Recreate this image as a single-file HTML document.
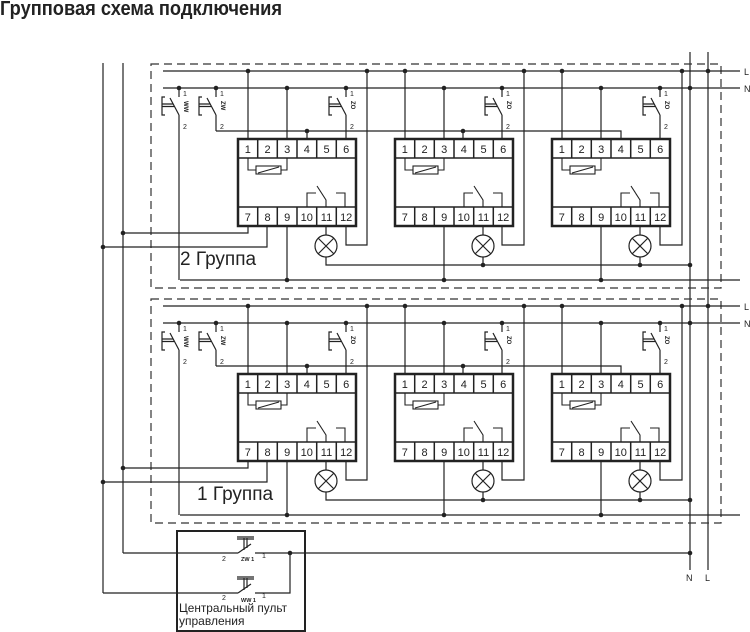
<!DOCTYPE html>
<html><head><meta charset="utf-8"><style>
html,body{margin:0;padding:0;background:#fff;}
svg{display:block;}
text{font-family:"Liberation Sans",sans-serif;fill:#222;}
</style></head><body>
<svg width="750" height="632" viewBox="0 0 750 632" xmlns="http://www.w3.org/2000/svg">
<defs>
<g id="sw">
<path d="M0,0 V9 M-9,10 L0,27 M0,27 V43 M-14,9 H-17 V27 H-14 M-17,16 H-6 M-17,18.5 H-5" fill="none" stroke="#222" stroke-width="1.2"/>
</g>
</defs>
<text x="0" y="15" font-size="20" font-weight="bold" textLength="282" lengthAdjust="spacingAndGlyphs">Групповая схема подключения</text>

<g fill="none" stroke="#222" stroke-width="1.2">
<path d="M103,63 V593 M123,63 V553 M690,52 V570 M708,52 V570"/>
</g>

<!-- GROUP 2 -->
<g id="g2">
<rect x="151" y="64" width="570" height="224" fill="none" stroke="#333" stroke-width="1.2" stroke-dasharray="8 5"/>
<g fill="none" stroke="#222" stroke-width="1.2">
<path d="M163,71 H740 M163,88 H740"/>
<path d="M248,71 V139 M405,71 V139 M562,71 V139 M287,88 V139 M444,88 V139 M601,88 V139"/>
<path d="M216,131 H621 V139 M307,131 V139 M463,131 V139"/>
<path d="M179,131 V280 M346,131 V139 M502,131 V139 M660,131 V139"/>
<path d="M287,226 V280 M444,226 V280 M601,226 V280 M180,280 H740"/>
<path d="M326,226 V235 M326,257 V265 H690 M483,226 V235 M483,257 V265 M640,226 V235 M640,257 V265"/>
<path d="M346,226 V245 H367 V71 M502,226 V245 H524 V71 M660,226 V245 H682 V71"/>
<path d="M248,226 V233 H123 M267,226 V247 H103"/>
<circle cx="326" cy="246" r="11"/><path d="M318,238 L334,254 M334,238 L318,254"/>
<circle cx="483" cy="246" r="11"/><path d="M475,238 L491,254 M491,238 L475,254"/>
<circle cx="640" cy="246" r="11"/><path d="M632,238 L648,254 M648,238 L632,254"/>
</g>
<use href="#sw" x="179" y="88"/><use href="#sw" x="216" y="88"/><use href="#sw" x="346" y="88"/><use href="#sw" x="502" y="88"/><use href="#sw" x="660" y="88"/>
<g font-size="7">
<text x="183" y="96">1</text><text x="183" y="129">2</text><text x="220" y="96">1</text><text x="220" y="129">2</text>
<text x="350" y="96">1</text><text x="350" y="129">2</text><text x="506" y="96">1</text><text x="506" y="129">2</text>
<text x="664" y="96">1</text><text x="664" y="129">2</text>
<text transform="translate(184,101) rotate(90)" font-weight="bold" font-size="6">WW</text>
<text transform="translate(221,101) rotate(90)" font-weight="bold" font-size="6">ZW</text>
<text transform="translate(351,101) rotate(90)" font-weight="bold" font-size="6">ZO</text>
<text transform="translate(507,101) rotate(90)" font-weight="bold" font-size="6">ZO</text>
<text transform="translate(665,101) rotate(90)" font-weight="bold" font-size="6">ZO</text>
</g>
<g fill="#222">
<circle cx="248" cy="71" r="2.3"/><circle cx="367" cy="71" r="2.3"/><circle cx="405" cy="71" r="2.3"/><circle cx="524" cy="71" r="2.3"/><circle cx="562" cy="71" r="2.3"/><circle cx="682" cy="71" r="2.3"/><circle cx="708" cy="71" r="2.3"/>
<circle cx="179" cy="88" r="2.3"/><circle cx="216" cy="88" r="2.3"/><circle cx="287" cy="88" r="2.3"/><circle cx="346" cy="88" r="2.3"/><circle cx="444" cy="88" r="2.3"/><circle cx="502" cy="88" r="2.3"/><circle cx="601" cy="88" r="2.3"/><circle cx="660" cy="88" r="2.3"/><circle cx="690" cy="88" r="2.3"/>
<circle cx="307" cy="131" r="2.3"/><circle cx="463" cy="131" r="2.3"/>
<circle cx="123" cy="233" r="2.3"/><circle cx="103" cy="247" r="2.3"/>
<circle cx="483" cy="265" r="2.3"/><circle cx="640" cy="265" r="2.3"/><circle cx="690" cy="265" r="2.3"/>
<circle cx="287" cy="280" r="2.3"/><circle cx="444" cy="280" r="2.3"/><circle cx="601" cy="280" r="2.3"/>
</g>
<text x="744" y="75" font-size="9">L</text><text x="744" y="92" font-size="9">N</text>
<text x="180" y="265" font-size="19">2 Группа</text>
</g>

<!-- relays group 2 -->
<g font-size="11" text-anchor="middle">
<g transform="translate(238,139)">
<rect x="0" y="0" width="118" height="87" fill="#fff" stroke="#222" stroke-width="2.5"/>
<g fill="none" stroke="#222" stroke-width="1.5"><path d="M0,19 H118 M0,68 H118 M19.7,0 V19 M39.3,0 V19 M59,0 V19 M78.7,0 V19 M98.3,0 V19 M19.7,68 V87 M39.3,68 V87 M59,68 V87 M78.7,68 V87 M98.3,68 V87"/></g>
<g fill="none" stroke="#222" stroke-width="1.1"><path d="M10,19 V31 H18 M43,31 H49 V19 M69,68 V54 H78 M79,47 L88,61 V68 M98,54 H107 V68"/><rect x="18" y="27" width="25" height="8"/><path d="M20,34 L41,28"/></g>
<text x="9.8" y="14">1</text><text x="29.5" y="14">2</text><text x="49.2" y="14">3</text><text x="68.8" y="14">4</text><text x="88.5" y="14">5</text><text x="108.2" y="14">6</text>
<text x="9.8" y="82">7</text><text x="29.5" y="82">8</text><text x="49.2" y="82">9</text><text x="68.8" y="82">10</text><text x="88.5" y="82">11</text><text x="108.2" y="82">12</text>
</g>
<g transform="translate(395,139)">
<rect x="0" y="0" width="118" height="87" fill="#fff" stroke="#222" stroke-width="2.5"/>
<g fill="none" stroke="#222" stroke-width="1.5"><path d="M0,19 H118 M0,68 H118 M19.7,0 V19 M39.3,0 V19 M59,0 V19 M78.7,0 V19 M98.3,0 V19 M19.7,68 V87 M39.3,68 V87 M59,68 V87 M78.7,68 V87 M98.3,68 V87"/></g>
<g fill="none" stroke="#222" stroke-width="1.1"><path d="M10,19 V31 H18 M43,31 H49 V19 M69,68 V54 H78 M79,47 L88,61 V68 M98,54 H107 V68"/><rect x="18" y="27" width="25" height="8"/><path d="M20,34 L41,28"/></g>
<text x="9.8" y="14">1</text><text x="29.5" y="14">2</text><text x="49.2" y="14">3</text><text x="68.8" y="14">4</text><text x="88.5" y="14">5</text><text x="108.2" y="14">6</text>
<text x="9.8" y="82">7</text><text x="29.5" y="82">8</text><text x="49.2" y="82">9</text><text x="68.8" y="82">10</text><text x="88.5" y="82">11</text><text x="108.2" y="82">12</text>
</g>
<g transform="translate(552,139)">
<rect x="0" y="0" width="118" height="87" fill="#fff" stroke="#222" stroke-width="2.5"/>
<g fill="none" stroke="#222" stroke-width="1.5"><path d="M0,19 H118 M0,68 H118 M19.7,0 V19 M39.3,0 V19 M59,0 V19 M78.7,0 V19 M98.3,0 V19 M19.7,68 V87 M39.3,68 V87 M59,68 V87 M78.7,68 V87 M98.3,68 V87"/></g>
<g fill="none" stroke="#222" stroke-width="1.1"><path d="M10,19 V31 H18 M43,31 H49 V19 M69,68 V54 H78 M79,47 L88,61 V68 M98,54 H107 V68"/><rect x="18" y="27" width="25" height="8"/><path d="M20,34 L41,28"/></g>
<text x="9.8" y="14">1</text><text x="29.5" y="14">2</text><text x="49.2" y="14">3</text><text x="68.8" y="14">4</text><text x="88.5" y="14">5</text><text x="108.2" y="14">6</text>
<text x="9.8" y="82">7</text><text x="29.5" y="82">8</text><text x="49.2" y="82">9</text><text x="68.8" y="82">10</text><text x="88.5" y="82">11</text><text x="108.2" y="82">12</text>
</g>
</g>

<!-- GROUP 1 -->
<g transform="translate(0,235)">
<rect x="151" y="64" width="570" height="224" fill="none" stroke="#333" stroke-width="1.2" stroke-dasharray="8 5"/>
<g fill="none" stroke="#222" stroke-width="1.2">
<path d="M163,71 H740 M163,88 H740"/>
<path d="M248,71 V139 M405,71 V139 M562,71 V139 M287,88 V139 M444,88 V139 M601,88 V139"/>
<path d="M216,131 H621 V139 M307,131 V139 M463,131 V139"/>
<path d="M179,131 V280 M346,131 V139 M502,131 V139 M660,131 V139"/>
<path d="M287,226 V280 M444,226 V280 M601,226 V280 M180,280 H740"/>
<path d="M326,226 V235 M326,257 V265 H690 M483,226 V235 M483,257 V265 M640,226 V235 M640,257 V265"/>
<path d="M346,226 V245 H367 V71 M502,226 V245 H524 V71 M660,226 V245 H682 V71"/>
<path d="M248,226 V233 H123 M267,226 V247 H103"/>
<circle cx="326" cy="246" r="11"/><path d="M318,238 L334,254 M334,238 L318,254"/>
<circle cx="483" cy="246" r="11"/><path d="M475,238 L491,254 M491,238 L475,254"/>
<circle cx="640" cy="246" r="11"/><path d="M632,238 L648,254 M648,238 L632,254"/>
</g>
<use href="#sw" x="179" y="88"/><use href="#sw" x="216" y="88"/><use href="#sw" x="346" y="88"/><use href="#sw" x="502" y="88"/><use href="#sw" x="660" y="88"/>
<g font-size="7">
<text x="183" y="96">1</text><text x="183" y="129">2</text><text x="220" y="96">1</text><text x="220" y="129">2</text>
<text x="350" y="96">1</text><text x="350" y="129">2</text><text x="506" y="96">1</text><text x="506" y="129">2</text>
<text x="664" y="96">1</text><text x="664" y="129">2</text>
<text transform="translate(184,101) rotate(90)" font-weight="bold" font-size="6">WW</text>
<text transform="translate(221,101) rotate(90)" font-weight="bold" font-size="6">ZW</text>
<text transform="translate(351,101) rotate(90)" font-weight="bold" font-size="6">ZO</text>
<text transform="translate(507,101) rotate(90)" font-weight="bold" font-size="6">ZO</text>
<text transform="translate(665,101) rotate(90)" font-weight="bold" font-size="6">ZO</text>
</g>
<g fill="#222">
<circle cx="248" cy="71" r="2.3"/><circle cx="367" cy="71" r="2.3"/><circle cx="405" cy="71" r="2.3"/><circle cx="524" cy="71" r="2.3"/><circle cx="562" cy="71" r="2.3"/><circle cx="682" cy="71" r="2.3"/><circle cx="708" cy="71" r="2.3"/>
<circle cx="179" cy="88" r="2.3"/><circle cx="216" cy="88" r="2.3"/><circle cx="287" cy="88" r="2.3"/><circle cx="346" cy="88" r="2.3"/><circle cx="444" cy="88" r="2.3"/><circle cx="502" cy="88" r="2.3"/><circle cx="601" cy="88" r="2.3"/><circle cx="660" cy="88" r="2.3"/><circle cx="690" cy="88" r="2.3"/>
<circle cx="307" cy="131" r="2.3"/><circle cx="463" cy="131" r="2.3"/>
<circle cx="123" cy="233" r="2.3"/><circle cx="103" cy="247" r="2.3"/>
<circle cx="483" cy="265" r="2.3"/><circle cx="640" cy="265" r="2.3"/><circle cx="690" cy="265" r="2.3"/>
<circle cx="287" cy="280" r="2.3"/><circle cx="444" cy="280" r="2.3"/><circle cx="601" cy="280" r="2.3"/>
</g>
<text x="744" y="75" font-size="9">L</text><text x="744" y="92" font-size="9">N</text>
<text x="197" y="265" font-size="19">1 Группа</text>

<g font-size="11" text-anchor="middle">
<g transform="translate(238,139)">
<rect x="0" y="0" width="118" height="87" fill="#fff" stroke="#222" stroke-width="2.5"/>
<g fill="none" stroke="#222" stroke-width="1.5"><path d="M0,19 H118 M0,68 H118 M19.7,0 V19 M39.3,0 V19 M59,0 V19 M78.7,0 V19 M98.3,0 V19 M19.7,68 V87 M39.3,68 V87 M59,68 V87 M78.7,68 V87 M98.3,68 V87"/></g>
<g fill="none" stroke="#222" stroke-width="1.1"><path d="M10,19 V31 H18 M43,31 H49 V19 M69,68 V54 H78 M79,47 L88,61 V68 M98,54 H107 V68"/><rect x="18" y="27" width="25" height="8"/><path d="M20,34 L41,28"/></g>
<text x="9.8" y="14">1</text><text x="29.5" y="14">2</text><text x="49.2" y="14">3</text><text x="68.8" y="14">4</text><text x="88.5" y="14">5</text><text x="108.2" y="14">6</text>
<text x="9.8" y="82">7</text><text x="29.5" y="82">8</text><text x="49.2" y="82">9</text><text x="68.8" y="82">10</text><text x="88.5" y="82">11</text><text x="108.2" y="82">12</text>
</g>
<g transform="translate(395,139)">
<rect x="0" y="0" width="118" height="87" fill="#fff" stroke="#222" stroke-width="2.5"/>
<g fill="none" stroke="#222" stroke-width="1.5"><path d="M0,19 H118 M0,68 H118 M19.7,0 V19 M39.3,0 V19 M59,0 V19 M78.7,0 V19 M98.3,0 V19 M19.7,68 V87 M39.3,68 V87 M59,68 V87 M78.7,68 V87 M98.3,68 V87"/></g>
<g fill="none" stroke="#222" stroke-width="1.1"><path d="M10,19 V31 H18 M43,31 H49 V19 M69,68 V54 H78 M79,47 L88,61 V68 M98,54 H107 V68"/><rect x="18" y="27" width="25" height="8"/><path d="M20,34 L41,28"/></g>
<text x="9.8" y="14">1</text><text x="29.5" y="14">2</text><text x="49.2" y="14">3</text><text x="68.8" y="14">4</text><text x="88.5" y="14">5</text><text x="108.2" y="14">6</text>
<text x="9.8" y="82">7</text><text x="29.5" y="82">8</text><text x="49.2" y="82">9</text><text x="68.8" y="82">10</text><text x="88.5" y="82">11</text><text x="108.2" y="82">12</text>
</g>
<g transform="translate(552,139)">
<rect x="0" y="0" width="118" height="87" fill="#fff" stroke="#222" stroke-width="2.5"/>
<g fill="none" stroke="#222" stroke-width="1.5"><path d="M0,19 H118 M0,68 H118 M19.7,0 V19 M39.3,0 V19 M59,0 V19 M78.7,0 V19 M98.3,0 V19 M19.7,68 V87 M39.3,68 V87 M59,68 V87 M78.7,68 V87 M98.3,68 V87"/></g>
<g fill="none" stroke="#222" stroke-width="1.1"><path d="M10,19 V31 H18 M43,31 H49 V19 M69,68 V54 H78 M79,47 L88,61 V68 M98,54 H107 V68"/><rect x="18" y="27" width="25" height="8"/><path d="M20,34 L41,28"/></g>
<text x="9.8" y="14">1</text><text x="29.5" y="14">2</text><text x="49.2" y="14">3</text><text x="68.8" y="14">4</text><text x="88.5" y="14">5</text><text x="108.2" y="14">6</text>
<text x="9.8" y="82">7</text><text x="29.5" y="82">8</text><text x="49.2" y="82">9</text><text x="68.8" y="82">10</text><text x="88.5" y="82">11</text><text x="108.2" y="82">12</text>
</g>
</g>
</g>

<!-- control panel -->
<rect x="177" y="531" width="128" height="100" fill="none" stroke="#222" stroke-width="2"/>
<g fill="none" stroke="#222" stroke-width="1.2">
<path d="M123,553 H238 M238,553 L251,544 M255,553 H690"/>
<path d="M237,537 H254 M237,539 H254 M244,538 V550 M247,538 V548"/>
<path d="M103,593 H238 M238,593 L251,584 M255,593 H290 V553"/>
<path d="M237,577 H254 M237,579 H254 M244,578 V590 M247,578 V588"/>
</g>
<g fill="#222"><circle cx="290" cy="553" r="2.3"/><circle cx="690" cy="553" r="2.3"/></g>
<g font-size="7"><text x="222" y="561">2</text><text x="241" y="561" font-size="5.5" font-weight="bold">ZW 1</text><text x="262" y="558">1</text>
<text x="222" y="600">2</text><text x="241" y="602" font-size="5.5" font-weight="bold">WW 1</text><text x="262" y="598">1</text></g>
<text x="179" y="612" font-size="12" textLength="108" lengthAdjust="spacingAndGlyphs">Центральный пульт</text>
<text x="179" y="625" font-size="12">управления</text>
<text x="686" y="581" font-size="9">N</text><text x="705" y="581" font-size="9">L</text>
</svg>
</body></html>
